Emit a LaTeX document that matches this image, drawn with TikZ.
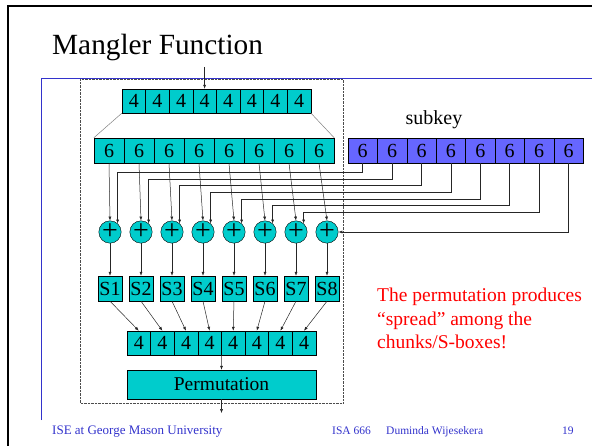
\documentclass[tikz,border=0pt]{standalone}
\usepackage{fontspec}
\setmainfont{Liberation Serif}
\usepackage{xcolor}
\usepackage{tikz}
\usetikzlibrary{arrows.meta, positioning, calc}
\definecolor{boxcyan}{RGB}{0,204,204}
\definecolor{keyblue}{RGB}{102,102,255}
\definecolor{slideblue}{RGB}{51,51,204}
\tikzstyle{cell} = [rectangle, draw=black, fill=boxcyan, minimum width=23.6pt, minimum height=24pt, inner sep=0pt, text centered, font=\fontsize{20}{22}\selectfont]
\tikzstyle{widecell} = [cell, minimum width=30pt, minimum height=25pt]
\tikzstyle{keycell} = [widecell, fill=keyblue, minimum width=29.4pt]
\tikzstyle{xorop} = [circle, draw=black, fill=boxcyan, minimum size=21pt, inner sep=0pt, font=\fontsize{28}{28}\selectfont]
\tikzstyle{sbox} = [cell, minimum width=24pt, minimum height=25pt]
\tikzstyle{permbox} = [cell, minimum width=189pt, minimum height=29pt, font=\fontsize{19.5}{22}\selectfont]
\tikzstyle{footer} = [anchor=base west, inner sep=0pt, text=slideblue, font=\fontsize{11.5}{13}\selectfont]
\tikzstyle{line} = [-{Latex[length=4pt,width=3pt]}, line width=0.5pt, black!85]

\begin{document}
\begin{tikzpicture}[x=1pt, y=-1pt]
    \useasboundingbox (0,0) rectangle (592,446);
    % slide frame and title
    \draw [line width=2pt] (8,446) -- (8,6) -- (592,6);
    \node (title) [anchor=base west, inner sep=0pt, font=\fontsize{29.3}{32}\selectfont] at (52,55) {Mangler Function};
    \draw [densely dotted, black!70] (80,79) rectangle (343,403);
    \draw [slideblue, line width=1pt] (41,420) -- (41,79) -- (592,79);

    % the rows of boxes
    \foreach \i in {1,...,8} {
        \node (in-\i) [cell] at (110.2+23.6*\i, 101) {4};
        \node (ex-\i) [widecell] at (79+30*\i, 150.5) {6};
        \node (key-\i) [keycell] at (333.3+29.4*\i, 150.5) {6};
        \node (xor-\i) [xorop] at (79+31*\i, 232) {\raisebox{-1pt}{+}};
        \node (sbox-\i) [sbox] at (79+31*\i, 288.5) {S\i};
        \node (out-\i) [cell] at (115.2+23.6*\i, 343) {4};
    }
    \node (subkey) [anchor=base, inner sep=0pt, font=\fontsize{20}{22}\selectfont] at (434,125) {subkey};
    \node (perm) [permbox] at (221.5,384.5) {Permutation};
    \node (note) [anchor=north west, align=left, inner sep=0pt, text=red, font=\fontsize{19.5}{23.3}\selectfont] at (377,288) {The permutation produces\\“spread” among the\\chunks/S-boxes!};

    \coordinate (inp) at ($(in-4.north)+(0,-22)$);
    \coordinate (outp) at ($(perm.south)+(0,14)$);

    % expansion
    \draw [gray, line width=0.5pt] (in-1.south west) -- (ex-1.north west);
    \draw [gray, line width=0.5pt] (in-8.south east) -- (ex-8.north east);
    \draw [line] (inp) -- (in-4);
    \foreach \i in {1,...,8} {
        \draw [line] (ex-\i.south) -- (xor-\i.north);
        \draw [line] (xor-\i.south) -- (sbox-\i.north);
        \draw [line] (sbox-\i.south) -- (out-\i.north);
    }
    % subkey bits into the xors
    \foreach \i in {1,...,7} {
        \draw [line] (key-\i.south) -- ++(0,{2.33+6.67*\i}) -| (xor-\i.48);
    }
    \draw [line] (key-8.south) |- (xor-8.east);
    \draw [line] (out-4.south east) -- (perm.north);
    \draw [line] (perm.south) -- (outp);

    % footer
    \node (org) [footer, font=\fontsize{13}{15}\selectfont] at (52,435) {ISE at George Mason University};
    \node (course) [footer] at (332,435) {ISA 666};
    \node (author) [footer] at (386,435) {Duminda Wijesekera};
    \node (page) [footer] at (562,435) {19};
\end{tikzpicture}
\end{document}
